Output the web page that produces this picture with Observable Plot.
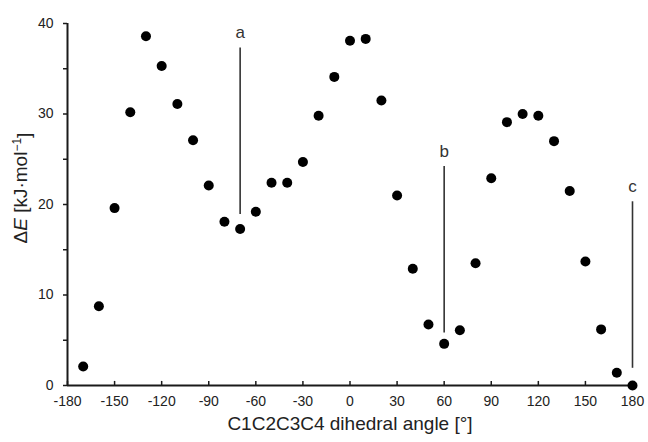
<!DOCTYPE html>
<html>
<head>
<meta charset="utf-8">
<script src="https://cdn.jsdelivr.net/npm/d3@7"></script>
<script src="https://cdn.jsdelivr.net/npm/@observablehq/plot@0.6"></script>
<style>
  html, body { margin: 0; padding: 0; background: white; }
</style>
</head>
<body>
<div id="chart"></div>
<script>
// Dihedral angles (degrees)
const angles = [-170, -160, -150, -140, -130, -120, -110, -100, -90, -80, -70, -60, -50, -40, -30, -20, -10,
                0, 10, 20, 30, 40, 50, 60, 70, 80, 90, 100, 110, 120, 130, 140, 150, 160, 170, 180];
// Relative energies ΔE (kJ/mol)
const energies = [2.1, 8.75, 19.6, 30.2, 38.6, 35.3, 31.1, 27.1, 22.1, 18.1, 17.3, 19.2, 22.4, 22.4, 24.7, 29.8, 34.1,
                  38.1, 38.3, 31.5, 21.0, 12.9, 6.75, 4.6, 6.1, 13.5, 22.9, 29.1, 30.0, 29.8, 27.0, 21.5, 13.7, 6.2, 1.4, 0];

// Annotations (conformers a, b, c)
const annotLabels = ["a", "b", "c"];
const annotAngles = [-70, 60, 180];
const annotTop = [37.3, 24.2, 20.3];
const annotBottom = [18.9, 5.8, 1.9];
const annotLabelY = [39.0, 25.8, 22.0];

// Ticks
const xTicks = [-180, -150, -120, -90, -60, -30, 0, 30, 60, 90, 120, 150, 180];
const yTicks = [0, 5, 10, 15, 20, 25, 30, 35, 40];
const yLabelTicks = [0, 10, 20, 30, 40];

const xTitle = "C1C2C3C4 dihedral angle [°]";
const yTitle = "ΔE [kJ·mol-1]";

const data = angles.map((a, i) => ({angle: a, energy: energies[i]}));
const annot = annotLabels.map((l, i) => ({label: l, angle: annotAngles[i], top: annotTop[i], bottom: annotBottom[i], ly: annotLabelY[i]}));

const ink = "#1a1a1a";

const chart = Plot.plot({
  width: 648,
  height: 442,
  marginLeft: 67,
  marginRight: 16,
  marginTop: 23,
  marginBottom: 57,
  x: {domain: [-180, 180]},
  y: {domain: [0, 40]},
  style: {fontFamily: "'Liberation Sans', Arial, sans-serif", fontSize: "14px", color: "#222", background: "white"},
  marks: [
    Plot.axisY({ticks: yTicks, tickSize: 4, tickPadding: 10, tickFormat: d => yLabelTicks.includes(d) ? String(d) : "", label: null, stroke: ink, strokeWidth: 1.5}),
    Plot.axisX({ticks: xTicks, tickSize: 0, tickPadding: 11, tickFormat: d => String(d), label: null}),
    Plot.ruleX(xTicks, {x: d => d, y1: 0, y2: 0.45, stroke: ink, strokeWidth: 1.5}),
    Plot.ruleY([0], {stroke: ink, strokeWidth: 2}),
    Plot.ruleX([-180], {stroke: ink, strokeWidth: 2}),
    Plot.ruleX(annot, {x: "angle", y1: "bottom", y2: "top", stroke: "#333", strokeWidth: 1.6}),
    Plot.text(annot, {x: "angle", y: "ly", text: "label", fontSize: 17, fill: "#333"}),
    Plot.dot(data, {x: "angle", y: "energy", r: 5, fill: "#000", stroke: "none"}),
    Plot.text([xTitle], {frameAnchor: "bottom", dy: 44, fontSize: 19, fill: "#222"}),
    Plot.text([yTitle], {frameAnchor: "left", rotate: -90, fontSize: 19, fill: "#222"})
  ]
});

// Rich formatting and placement of the y title: italic E and superscript −1
const yt = d3.select(chart).selectAll("text").filter(function() { return this.textContent === yTitle; });
yt.each(function() {
  const t = d3.select(this);
  t.attr("transform", "translate(26,243) rotate(-90)").attr("x", null).attr("y", null);
  t.text(null);
  t.append("tspan").text("Δ");
  t.append("tspan").attr("font-style", "italic").text("E");
  t.append("tspan").text(" [kJ·mol");
  t.append("tspan").attr("font-size", "12px").attr("dy", "-0.5em").text("−1");
  t.append("tspan").attr("dy", "0.5em").text("]");
});

document.getElementById("chart").appendChild(chart);
</script>
</body>
</html>
